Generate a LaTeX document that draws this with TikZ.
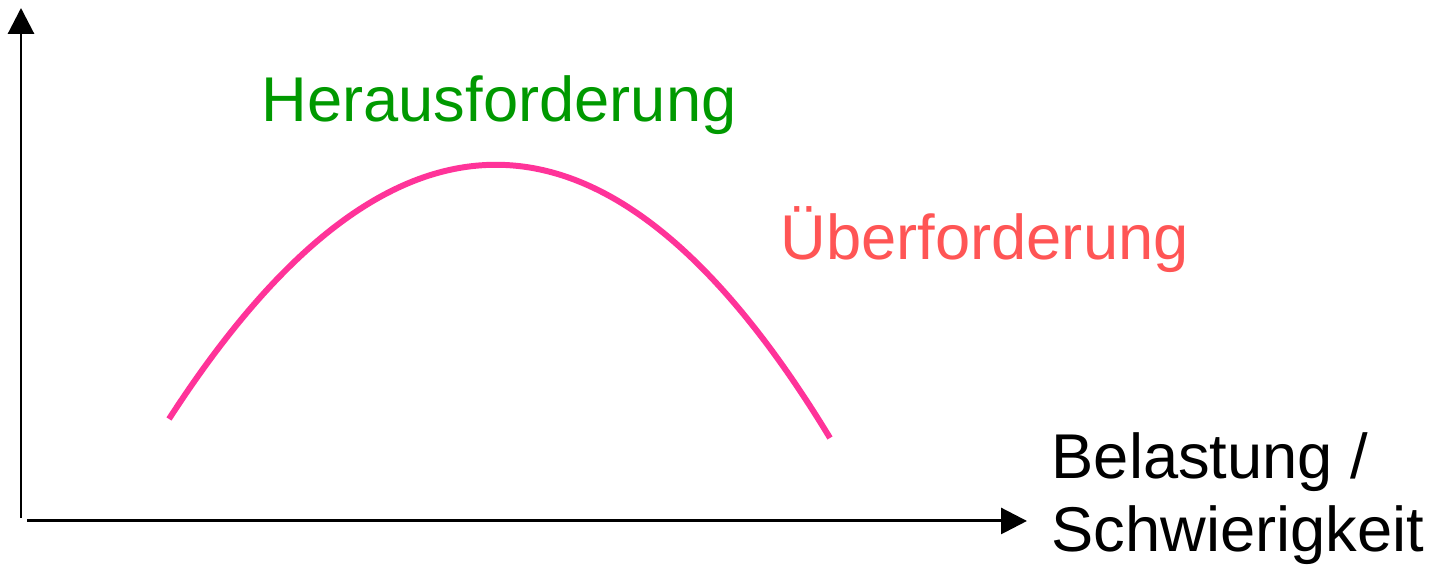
\documentclass[tikz,border=0pt]{standalone}
\usepackage{fontspec}
\setmainfont{Liberation Sans}
\usetikzlibrary{positioning, arrows.meta}
\definecolor{challenge_green}{HTML}{009900}
\definecolor{overload_red}{HTML}{FF5555}
\definecolor{curve_pink}{HTML}{FF3399}

\begin{document}
\begin{tikzpicture}[
      axis_line/.style={-{Triangle[length=0.26cm, width=0.26cm]}, line width=0.85pt},
      curve_line/.style={draw=curve_pink, line width=1.7pt},
      label_text/.style={inner sep=0pt, anchor=base west, font=\fontsize{18}{21}\selectfont}
    ]
      \useasboundingbox (0,0) rectangle (14.45,5.67);

      \coordinate (y0) at (0.21,0.49);
      \coordinate (y1) at (0.21,5.59);
      \coordinate (x0) at (0.27,0.46);
      \coordinate (x1) at (10.27,0.46);

      \coordinate (c_start) at (1.69,1.48);
      \coordinate (c_end) at (8.30,1.29);

      \node[label_text, text=challenge_green] (challenge) at (2.61,4.45) {Herausforderung};
      \node[label_text, text=overload_red] (overload) at (7.80,3.07) {Überforderung};
      \node[label_text, align=left] (load) at (10.51,0.15) {Belastung /\\Schwierigkeit};

      \draw[axis_line] (y0) -- (y1);
      \draw[axis_line] (x0) -- (x1);
      \draw[curve_line] (c_start) .. controls (3.92,4.93) and (6.13,4.87) .. (c_end);
    \end{tikzpicture}
\end{document}
